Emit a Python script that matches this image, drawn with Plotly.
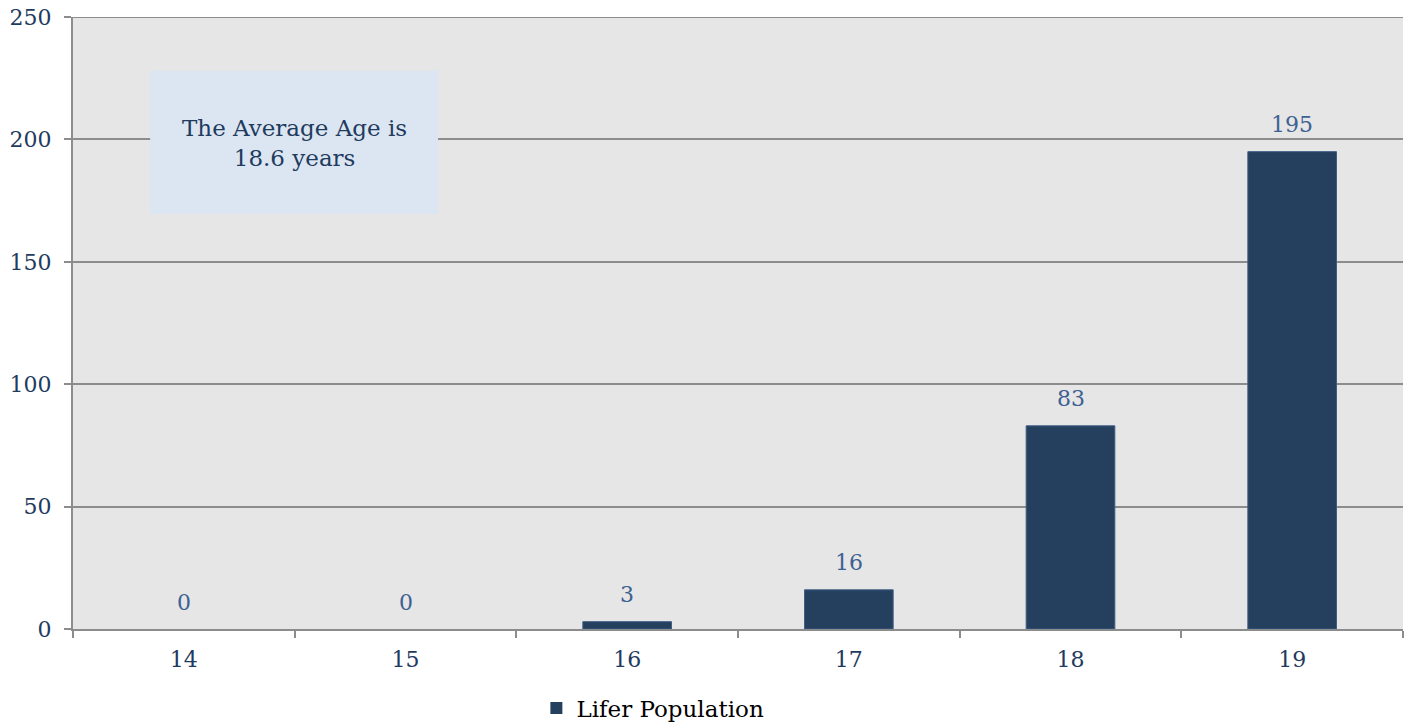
import plotly.graph_objects as go

ages = ["14", "15", "16", "17", "18", "19"]
lifer_population = [0, 0, 3, 16, 83, 195]
y_ticks = [0, 50, 100, 150, 200, 250]
series_name = "Lifer Population"
note_text = "The Average Age is<br>18.6 years"

FONT = "DejaVu Serif"
NAVY = "#1f3b5e"
BAR = "#253f5e"
LABEL = "#3d6192"
GRID = "#8c8c8c"

fig = go.Figure()
fig.add_trace(go.Bar(
    x=ages,
    y=lifer_population,
    name=series_name,
    marker=dict(color=BAR,
                line=dict(color=["rgba(0,0,0,0)" if v == 0 else "#3f5f86" for v in lifer_population],
                          width=1)),
    width=0.4,
))

for i, v in enumerate(lifer_population):
    fig.add_annotation(x=i, y=v, xref="x", yref="y", text=str(v), showarrow=False,
                       yanchor="middle", yshift=27,
                       font=dict(family=FONT, size=22, color=LABEL))

# top gridline at the last tick value (plotly omits gridlines on the range edge)
fig.add_shape(type="line", xref="paper", yref="y", x0=0, x1=1,
              y0=y_ticks[-1], y1=y_ticks[-1], line=dict(color=GRID, width=2), layer="below")

fig.add_shape(type="rect", xref="paper", yref="paper",
              x0=0.058, x1=0.2745, y0=0.678, y1=0.912,
              fillcolor="#dce6f2", line=dict(width=0), layer="above")
fig.add_annotation(xref="paper", yref="paper", x=0.1662, y=0.794,
                   xanchor="center", yanchor="middle",
                   text=note_text, showarrow=False,
                   font=dict(family=FONT, size=23, color=NAVY),
                   align="center")

fig.update_layout(
    width=1411, height=725,
    margin=dict(l=73, r=8, t=17, b=96, autoexpand=False),
    paper_bgcolor="white",
    plot_bgcolor="#e6e6e6",
    font=dict(family=FONT, size=22, color=NAVY),
    showlegend=True,
    legend=dict(orientation="h", x=0.436, xanchor="center", y=-0.094, yanchor="top",
                font=dict(family=FONT, size=23, color="#000000"),
                itemwidth=30),
)
fig.update_xaxes(
    type="category", automargin=False, range=[-0.5, len(ages) - 0.5],
    showline=True, linecolor=GRID, linewidth=2,
    ticks="outside", tickson="boundaries", ticklen=7, tickcolor=GRID, tickwidth=2,
    ticklabelstandoff=10,
    showgrid=False,
    tickfont=dict(family=FONT, size=22, color=NAVY),
)
fig.update_yaxes(
    range=[0, 250], tickvals=y_ticks, automargin=False,
    ticklabeloverflow="allow",
    showline=True, linecolor=GRID, linewidth=2,
    ticks="outside", ticklen=7, tickcolor=GRID, tickwidth=2,
    ticklabelstandoff=8,
    showgrid=True, gridcolor=GRID, gridwidth=2,
    zeroline=False,
    tickfont=dict(family=FONT, size=22, color=NAVY),
)

fig.write_html("out.html", config={"displayModeBar": False},
               post_script="document.body.style.margin='0';")
